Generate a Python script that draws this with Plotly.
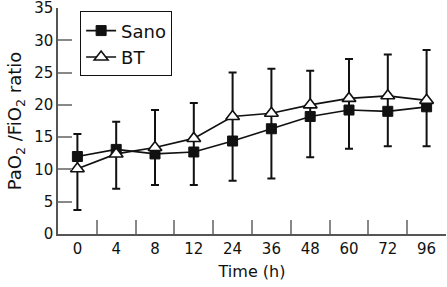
import plotly.graph_objects as go

time_labels = ["0", "4", "8", "12", "24", "36", "48", "60", "72", "96"]
sano = [12.0, 13.1, 12.4, 12.7, 14.4, 16.3, 18.2, 19.2, 19.0, 19.7]
bt = [10.1, 12.4, 13.4, 14.8, 18.2, 18.7, 20.0, 21.0, 21.4, 20.7]
bar_top = [15.5, 17.4, 19.2, 20.3, 25.0, 25.6, 25.3, 27.1, 27.8, 28.5]
bar_bottom = [3.7, 7.0, 7.6, 7.6, 8.25, 8.6, 11.9, 13.2, 13.6, 13.6]

FONT = "DejaVu Sans"

# vertical bar spans (lower end to upper end) drawn through the BT points
err_plus = [t - b for t, b in zip(bar_top, bt)]
err_minus = [b - lo for b, lo in zip(bt, bar_bottom)]

fig = go.Figure()
fig.add_trace(go.Scatter(
    x=time_labels, y=bt, mode="markers", showlegend=False, hoverinfo="skip",
    marker=dict(size=1, color="rgba(0,0,0,0)"),
    error_y=dict(type="data", symmetric=False, array=err_plus, arrayminus=err_minus,
                 color="#111", thickness=2, width=4),
))
fig.add_trace(go.Scatter(
    x=time_labels, y=sano, name="Sano", mode="lines+markers",
    line=dict(color="#111", width=1.7),
    marker=dict(symbol="square", size=10, color="#111", line=dict(color="#111", width=1)),
))
fig.add_trace(go.Scatter(
    x=time_labels, y=bt, name="BT", mode="lines+markers",
    line=dict(color="#111", width=1.7),
    marker=dict(symbol="triangle-up", size=12, color="white", line=dict(color="#111", width=1.6)),
))

fig.update_layout(
    width=447, height=287,
    margin=dict(l=58, r=1, t=8, b=53),
    paper_bgcolor="white", plot_bgcolor="white",
    font=dict(family=FONT, size=15, color="#111"),
    legend=dict(x=0.057, y=0.985, xanchor="left", yanchor="top",
                bordercolor="#111", borderwidth=1, bgcolor="white",
                font=dict(size=18), tracegroupgap=0, itemwidth=30),
    xaxis=dict(type="category", range=[-0.5, 9.5], showline=True, linecolor="#555",
               linewidth=1.5, ticks="inside", ticklen=14, tickcolor="#888", tickwidth=1.5,
               tickson="boundaries", showgrid=False, zeroline=False, automargin=False,
               tickfont=dict(size=15),
               title=dict(text="Time (h)", font=dict(size=16), standoff=9)),
    yaxis=dict(range=[0, 35], dtick=5, showline=True, linecolor="#555", linewidth=1.5,
               ticks="inside", ticklen=14, tickcolor="#888", tickwidth=1.5,
               ticklabeloverflow="allow",
               showgrid=False, zeroline=False, automargin=False, tickfont=dict(size=15),
               title=dict(text="PaO<sub>2</sub> /FiO<sub>2</sub> ratio", font=dict(size=18), standoff=8)),
)

fig.write_html("out.html", config={"displayModeBar": False},
               post_script="document.body.style.margin='0';document.body.style.padding='0';")
